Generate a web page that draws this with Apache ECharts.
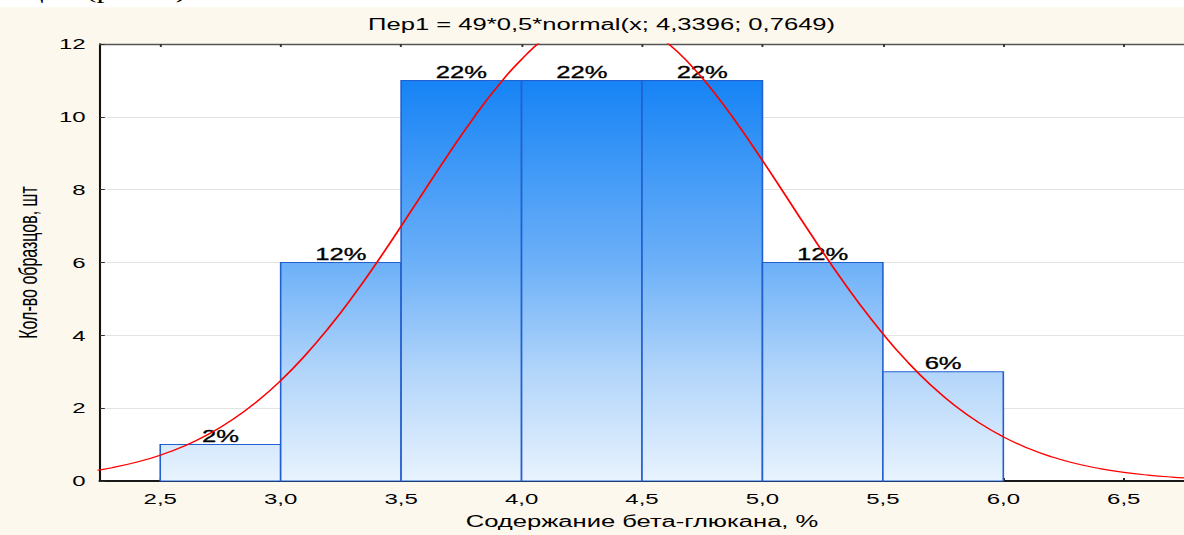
<!DOCTYPE html>
<html><head><meta charset="utf-8">
<script src="https://cdn.jsdelivr.net/npm/echarts@6/dist/echarts.min.js"></script>
<style>
html,body{margin:0;padding:0;background:#fff;overflow:hidden;width:1184px;height:535px}
#wrap{width:1184px;height:535px;overflow:hidden;position:relative}
#chart{width:740px;height:535px;transform:scaleX(1.6);transform-origin:0 0;position:absolute;left:0;top:0}
</style></head>
<body><div id="wrap"><div id="chart"></div></div>
<script>
// ---- data ----
const binEdges = [2.5, 3.0, 3.5, 4.0, 4.5, 5.0, 5.5, 6.0];
const counts = [1, 6, 11, 11, 11, 6, 3];
const percentLabels = ['2%', '12%', '22%', '22%', '22%', '12%', '6%'];
const xTicks = [2.5, 3.0, 3.5, 4.0, 4.5, 5.0, 5.5, 6.0, 6.5];
const curveX = [2.2,2.3,2.4,2.5,2.6,2.7,2.8,2.9,3.0,3.1,3.2,3.3,3.4,3.5,3.6,3.7,3.8,3.9,4.0,4.1,4.2,4.3,4.4,4.5,4.6,4.7,4.8,4.9,5.0,5.1,5.2,5.3,5.4,5.5,5.6,5.7,5.8,5.9,6.0,6.1,6.2,6.3,6.4,6.5,6.6,6.7,6.8];
const curveY = [0.256,0.365,0.513,0.709,0.962,1.284,1.685,2.174,2.757,3.437,4.212,5.074,6.009,6.996,8.007,9.008,9.963,10.833,11.579,12.166,12.567,12.761,12.738,12.500,12.059,11.436,10.661,9.770,8.802,7.796,6.787,5.809,4.888,4.043,3.287,2.628,2.065,1.595,1.211,0.904,0.664,0.479,0.340,0.237,0.162,0.109,0.072];
const titleText = 'Пер1 = 49*0,5*normal(x; 4,3396; 0,7649)';
const xName = 'Содержание бета-глюкана, %';
const yName = 'Кол-во образцов, шт';
const topCaption = 'нации (рис. 1).';

const FONT = "'Liberation Sans', Arial, sans-serif";
const barData = counts.map((c, i) => [binEdges[i], binEdges[i + 1], c, percentLabels[i]]);
const curveData = curveX.map((x, i) => [x, curveY[i]]);
const maxCount = Math.max.apply(null, counts);
const fmt = v => Number(v).toFixed(1).replace('.', ',');

const chart = echarts.init(document.getElementById('chart'), null, {renderer: 'svg'});
chart.setOption({
  backgroundColor: '#fdf8ed',
  animation: false,
  graphic: [
    {type: 'rect', z: 0, shape: {x: 0, y: 0, width: 740, height: 7.5}, style: {fill: '#ffffff'}},
    {type: 'text', z: 1, x: -3, y: 1, style: {text: topCaption, font: "20px 'Liberation Serif', serif", fill: '#000', verticalAlign: 'bottom'}},
    {type: 'rect', z: 2, shape: {x: 0, y: 7.5, width: 740, height: 10}, style: {fill: '#fdf8ed'}},
    {type: 'text', z: 3, x: 376, y: 25, style: {text: titleText, font: '16px ' + FONT, fill: '#000', align: 'center', verticalAlign: 'middle'}}
  ],
  grid: {left: 62.5, top: 44, width: 682.3, height: 439, show: true, backgroundColor: '#ffffff', borderWidth: 0},
  xAxis: [{
    type: 'value', min: 2.25, max: 6.75, position: 'bottom',
    name: xName, nameLocation: 'middle', nameGap: 33,
    nameTextStyle: {fontFamily: FONT, fontSize: 16, color: '#000'},
    axisLine: {show: true, onZero: false, lineStyle: {color: '#1a1a1a', width: 2}},
    axisTick: {show: true, inside: true, length: 3, customValues: xTicks, lineStyle: {color: '#1a1a1a', width: 1.2}},
    axisLabel: {customValues: xTicks, formatter: fmt, margin: 10, fontFamily: FONT, fontSize: 15, color: '#000'},
    splitLine: {show: false}
  }, {
    type: 'value', min: 2.25, max: 6.75, position: 'top',
    axisLine: {show: true, onZero: false, lineStyle: {color: '#555', width: 1.3}},
    axisTick: {show: true, inside: true, length: 3, customValues: xTicks, lineStyle: {color: '#333', width: 1.2}},
    axisLabel: {show: false},
    splitLine: {show: false}
  }],
  yAxis: {
    type: 'value', min: 0, max: 12, interval: 2,
    name: yName, nameLocation: 'middle', nameGap: 36,
    nameTextStyle: {fontFamily: FONT, fontSize: 16, color: '#000'},
    axisLine: {show: true, lineStyle: {color: '#111', width: 1.3}},
    axisTick: {show: true, inside: true, length: 3, lineStyle: {color: '#333', width: 1}},
    axisLabel: {margin: 9, fontFamily: FONT, fontSize: 15, color: '#000'},
    splitLine: {show: true, lineStyle: {color: '#e3e3e3', width: 1}}
  },
  series: [{
    type: 'custom',
    data: barData,
    encode: {x: [0, 1], y: 2},
    z: 2,
    renderItem: function (params, api) {
      const x0 = api.value(0), x1 = api.value(1), c = api.value(2);
      const p0 = api.coord([x0, c]);
      const p1 = api.coord([x1, 0]);
      const yTop = api.coord([x0, maxCount])[1];
      const grad = new echarts.graphic.LinearGradient(0, yTop, 0, p1[1], [
        {offset: 0, color: '#1683f5'},
        {offset: 0.4545, color: '#6cb0f8'},
        {offset: 0.727, color: '#b2d5fa'},
        {offset: 1, color: '#e8f3fe'}
      ], true);
      return {
        type: 'group',
        children: [{
          type: 'rect',
          shape: {x: p0[0], y: p0[1], width: p1[0] - p0[0], height: p1[1] - p0[1]},
          style: {fill: grad, stroke: '#2360cf', lineWidth: 1}
        }, {
          type: 'text',
          x: (p0[0] + p1[0]) / 2, y: p0[1] + 0.5,
          style: {text: barData[params.dataIndex][3], font: '16px ' + FONT, fill: '#000', stroke: '#000', lineWidth: 0.3, align: 'center', verticalAlign: 'bottom'}
        }]
      };
    }
  }, {
    type: 'line',
    data: curveData,
    smooth: true,
    showSymbol: false,
    clip: true,
    z: 5,
    lineStyle: {color: '#ff0000', width: 1.2}
  }]
});
</script>
</body></html>
